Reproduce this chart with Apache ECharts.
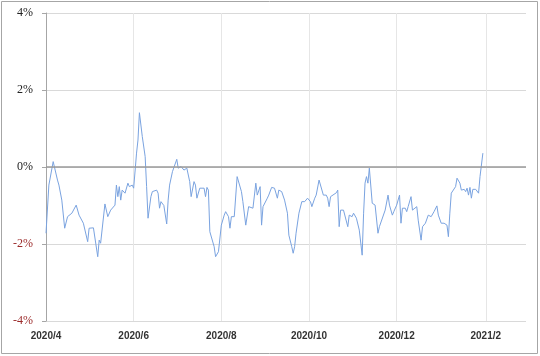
<!DOCTYPE html>
<html>
<head>
<meta charset="utf-8">
<script src="https://cdn.jsdelivr.net/npm/echarts@6/dist/echarts.min.js"></script>
<style>
html,body{margin:0;padding:0;background:#fff;}
#c{width:540px;height:356px;}
</style>
</head>
<body>
<div id="c"></div>
<script>
// Dates and values in %
var dates = [
'2020-04-01','2020-04-03','2020-04-06','2020-04-09','2020-04-10','2020-04-12','2020-04-14','2020-04-16','2020-04-19','2020-04-22',
'2020-04-24','2020-04-27','2020-04-30','2020-05-01','2020-05-04','2020-05-07','2020-05-08','2020-05-09','2020-05-12','2020-05-14',
'2020-05-16','2020-05-19','2020-05-20','2020-05-21','2020-05-22','2020-05-23','2020-05-24','2020-05-26','2020-05-28','2020-05-29',
'2020-05-31','2020-06-01','2020-06-03','2020-06-04','2020-06-05','2020-06-07','2020-06-09','2020-06-10','2020-06-11','2020-06-13',
'2020-06-14','2020-06-17','2020-06-18','2020-06-19','2020-06-20','2020-06-21','2020-06-22','2020-06-24','2020-06-25','2020-06-26',
'2020-06-28','2020-07-01','2020-07-02','2020-07-04','2020-07-06','2020-07-08','2020-07-10','2020-07-11','2020-07-13','2020-07-14',
'2020-07-15','2020-07-17','2020-07-20','2020-07-21','2020-07-22','2020-07-23','2020-07-24','2020-07-27','2020-07-28','2020-07-30',
'2020-07-31','2020-08-01','2020-08-03','2020-08-04','2020-08-06','2020-08-07','2020-08-08','2020-08-10','2020-08-11','2020-08-12',
'2020-08-13','2020-08-15','2020-08-16','2020-08-18','2020-08-20','2020-08-21','2020-08-23','2020-08-25','2020-08-26','2020-08-28',
'2020-08-29','2020-08-30','2020-09-02','2020-09-03','2020-09-05','2020-09-07','2020-09-08','2020-09-09','2020-09-10','2020-09-12',
'2020-09-14','2020-09-16','2020-09-17','2020-09-19','2020-09-20','2020-09-21','2020-09-22','2020-09-24','2020-09-26','2020-09-28',
'2020-09-29','2020-09-30','2020-10-02','2020-10-03','2020-10-05','2020-10-06','2020-10-08','2020-10-09','2020-10-11','2020-10-13',
'2020-10-14','2020-10-15','2020-10-16','2020-10-17','2020-10-20','2020-10-21','2020-10-22','2020-10-23','2020-10-25','2020-10-26',
'2020-10-28','2020-10-29','2020-10-31','2020-11-01','2020-11-03','2020-11-05','2020-11-07','2020-11-08','2020-11-09','2020-11-10',
'2020-11-11','2020-11-12','2020-11-14','2020-11-15','2020-11-16','2020-11-18','2020-11-19','2020-11-20','2020-11-23','2020-11-25',
'2020-11-26','2020-11-28','2020-11-29','2020-12-01','2020-12-03','2020-12-04','2020-12-05','2020-12-07','2020-12-08','2020-12-09',
'2020-12-11','2020-12-12','2020-12-13','2020-12-15','2020-12-16','2020-12-18','2020-12-19','2020-12-21','2020-12-23','2020-12-25',
'2020-12-27','2020-12-29','2020-12-30','2021-01-01','2021-01-03','2021-01-05','2021-01-06','2021-01-07','2021-01-08','2021-01-09',
'2021-01-11','2021-01-12','2021-01-14','2021-01-15','2021-01-17','2021-01-18','2021-01-19','2021-01-20','2021-01-21','2021-01-22',
'2021-01-23','2021-01-25','2021-01-26','2021-01-27','2021-01-28','2021-01-30'
];
var values = [
-1.72,-0.47,0.14,-0.34,-0.47,-0.86,-1.59,-1.29,-1.20,-0.99,
-1.25,-1.46,-1.94,-1.59,-1.58,-2.33,-1.90,-1.98,-0.96,-1.29,
-1.12,-0.99,-0.47,-0.77,-0.51,-0.86,-0.60,-0.68,-0.42,-0.51,
-0.47,-0.55,0.36,0.70,1.41,0.79,0.27,-0.51,-1.33,-0.77,
-0.64,-0.60,-0.68,-1.07,-0.90,-0.94,-1.00,-1.48,-0.86,-0.47,
-0.12,0.20,-0.03,0.01,-0.08,-0.03,-0.38,-0.77,-0.38,-0.47,
-0.81,-0.55,-0.55,-0.77,-0.53,-0.60,-1.68,-2.07,-2.33,-2.20,
-2.25,-1.51,-1.25,-1.16,-1.29,-1.59,-1.29,-1.29,-1.33,-0.25,
-0.25,-0.64,-0.90,-1.51,-1.03,-1.03,-1.07,-0.42,-0.73,-0.51,
-1.51,-1.03,-0.81,-0.73,-0.53,-0.55,-0.55,-0.81,-0.60,-0.64,
-0.86,-1.20,-1.77,-2.07,-2.24,-2.07,-1.72,-1.20,-0.90,-0.90,
-0.86,-0.81,-0.90,-1.03,-0.81,-0.73,-0.34,-0.34,-0.73,-0.73,
-0.81,-1.03,-0.77,-0.73,-0.67,-0.60,-1.55,-1.12,-1.12,-1.16,
-1.55,-1.25,-1.29,-1.20,-1.33,-1.64,-2.29,-1.20,-0.42,-0.25,
-0.42,-0.03,-0.94,-0.94,-0.99,-1.72,-1.55,-1.55,-1.12,-0.73,
-0.99,-1.25,-1.16,-0.99,-0.73,-1.46,-1.07,-1.07,-1.16,-1.03,
-0.77,-1.12,-1.12,-1.03,-1.38,-1.90,-1.55,-1.46,-1.25,-1.29,
-1.16,-1.01,-1.25,-1.46,-1.46,-1.51,-1.81,-1.20,-0.68,-0.73,
-0.51,-0.29,-0.42,-0.60,-0.58,-0.64,-0.55,-0.73,-0.53,-0.81,
-0.58,-0.58,-0.58,-0.68,-0.25,0.36
];
var axisStart = '2020-04-01';
var axisEnd = '2021-03-01';
var labelMonths = [4, 6, 8, 10, 12, 2];
var yTicks = [-4, -2, 0, 2, 4];

// calendar-day categories
function fmt(d){
  var m = d.getUTCMonth()+1, dd = d.getUTCDate();
  return d.getUTCFullYear()+'-'+(m<10?'0':'')+m+'-'+(dd<10?'0':'')+dd;
}
var categories = [];
var cur = new Date(axisStart+'T00:00:00Z'), end = new Date(axisEnd+'T00:00:00Z');
while (cur <= end) { categories.push(fmt(cur)); cur = new Date(cur.getTime()+86400000); }
var idx = {};
categories.forEach(function(c,i){ idx[c]=i; });
var seriesData = dates.map(function(d,i){ return [idx[d], values[i]]; });

function isLabelDay(value){
  var p = value.split('-');
  return p[2]==='01' && labelMonths.indexOf(+p[1])>=0 && value!==axisEnd;
}

var chart = echarts.init(document.getElementById('c'), null, {renderer:'canvas'});
chart.setOption({
  animation:false,
  backgroundColor:'#fff',
  graphic:[{type:'rect', shape:{x:1.5,y:1.5,width:536,height:352}, style:{fill:'none', stroke:'#a6a6a6', lineWidth:1}, silent:true}],
  grid:{left:46, right:14, top:13, bottom:35, containLabel:false},
  xAxis:{
    type:'category', data:categories, boundaryGap:false,
    axisLine:{show:false}, axisTick:{show:false},
    axisLabel:{
      interval:function(i,v){ return isLabelDay(v); },
      formatter:function(v){ var p=v.split('-'); return p[0]+'/'+(+p[1]); },
      fontFamily:'Liberation Sans', fontSize:10, fontWeight:'bold', color:'#333', margin:10
    },
    splitLine:{show:true, interval:function(i,v){ return isLabelDay(v) && i>0; }, lineStyle:{color:'#e6e6e6', width:1}}
  },
  yAxis:{
    type:'value', min:yTicks[0], max:yTicks[yTicks.length-1], interval:2,
    axisLine:{show:true, lineStyle:{color:'#a6a6a6', width:1}},
    axisTick:{show:true, length:4, lineStyle:{color:'#a6a6a6'}},
    axisLabel:{
      formatter:function(v){ return v+'%'; },
      color:function(v){ return v<0 ? '#9b2a2a' : '#222'; },
      fontFamily:'Liberation Serif', fontSize:12, margin:13
    },
    splitLine:{show:true, lineStyle:{color:'#d9d9d9', width:1}}
  },
  series:[{
    type:'line', data:seriesData, showSymbol:false, symbol:'none',
    lineStyle:{color:'#7aa3e0', width:1}, connectNulls:true,
    markLine:{silent:true, symbol:'none', label:{show:false},
      lineStyle:{color:'#9a9a9a', type:'solid', width:1.5},
      data:[{yAxis:0}]}
  }]
});
</script>
</body>
</html>
